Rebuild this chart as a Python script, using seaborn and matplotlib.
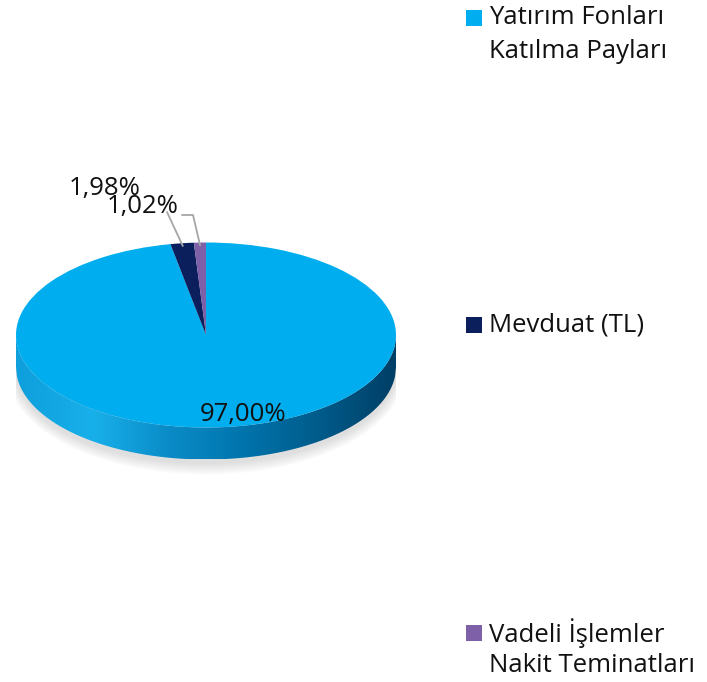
import numpy as np
import matplotlib.pyplot as plt
import seaborn as sns
from matplotlib.patches import Ellipse, Polygon, Rectangle
from matplotlib.colors import LinearSegmentedColormap

# data
categories = ['Yatırım Fonları\nKatılma Payları', 'Mevduat (TL)', 'Vadeli İşlemler\nNakit Teminatları']
shares = [97.00, 1.98, 1.02]
share_labels = ['97,00%', '1,98%', '1,02%']
colors = ['#00AEEF', '#0B1F5C', '#7E60A8']

sns.set_theme(style='white')
plt.rcParams['font.family'] = ['Open Sans', 'DejaVu Sans']

W, H = 707, 682
fig = plt.figure(figsize=(W / 100, H / 100), dpi=100)
fig.patch.set_facecolor('white')

# pie geometry (pixels): centre, radii, thickness
cx, cy, rx, ry, depth = 206, 335, 190, 92.5, 32
ylo, yhi = -1.75, 1.12
ax = fig.add_axes([(cx - rx) / W, (H - (cy - ylo * ry)) / H, 2 * rx / W, (yhi - ylo) * ry / H])


def px(x, y):
    # pixel position -> pie data units
    return (x - cx) / rx, (cy - y) / ry


t = depth / ry

# soft shadow
for i in range(10):
    ax.add_patch(Ellipse((0, -t - 0.05), 2.0 + 0.01 * i, 2.0 + 0.025 * i,
                         facecolor='#9a9a9a', edgecolor='none', alpha=0.03, zorder=0))

# side of the disc with gradient
xs = np.linspace(-1, 1, 400)
rim = -np.sqrt(1 - xs ** 2)
band = np.concatenate([np.column_stack([xs, rim]), np.column_stack([xs[::-1], rim[::-1] - t])])
poly = Polygon(band, closed=True, facecolor='none', edgecolor='none')
ax.add_patch(poly)
side_cmap = LinearSegmentedColormap.from_list(
    'side', ['#0E9FDC', '#18B0EA', '#0A8CC8', '#0074AC', '#005B8A', '#003F66'])
grad = np.linspace(0, 1, 256).reshape(1, -1)
im = ax.imshow(grad, extent=[-1, 1, -1 - t, 0], cmap=side_cmap, aspect='auto', zorder=1)
im.set_clip_path(poly)

# top of the disc
wedges, _ = ax.pie(shares, colors=colors, startangle=90, counterclock=False, radius=1,
                   wedgeprops=dict(linewidth=0))
for w in wedges:
    w.set_zorder(2)

ax.set_xlim(-1, 1)
ax.set_ylim(ylo, yhi)
ax.set_aspect('auto')
ax.axis('off')

# value labels
ax.text(*px(243, 415), share_labels[0], ha='center', va='center', fontsize=18.5, color='#111111', zorder=5)
ax.text(*px(105, 189), share_labels[1], ha='center', va='center', fontsize=18.5, color='#111111', zorder=5)
ax.text(*px(143, 207), share_labels[2], ha='center', va='center', fontsize=18.5, color='#111111', zorder=5)

# leader lines to the two small slices
mids = [np.deg2rad((w.theta1 + w.theta2) / 2) for w in wedges]
a1 = (np.cos(mids[1]) * 0.97, np.sin(mids[1]) * 0.97)
a2 = (np.cos(mids[2]) * 0.97, np.sin(mids[2]) * 0.97)
s1 = px(167, 212)
ax.plot([s1[0], a1[0]], [s1[1], a1[1]], color='#a6a6a6', lw=1.3, clip_on=False, zorder=4)
s2, m2 = px(182, 215), px(193, 215)
ax.plot([s2[0], m2[0], a2[0]], [s2[1], m2[1], a2[1]], color='#a6a6a6', lw=1.3, clip_on=False, zorder=4)

# legend
legend_rows = [18, 325, 633]
for lab, col, yrow in zip(categories, colors, legend_rows):
    fig.add_artist(Rectangle((466 / W, 1 - (yrow + 8) / H), 16 / W, 16 / H,
                             transform=fig.transFigure, facecolor=col, edgecolor='none'))
    for j, line in enumerate(lab.split('\n')):
        fig.text(489 / W, 1 - (yrow + 33 * j) / H, line, ha='left', va='center',
                 fontsize=18.5, color='#111111')

fig.savefig('out.png', dpi=100, facecolor='white')
